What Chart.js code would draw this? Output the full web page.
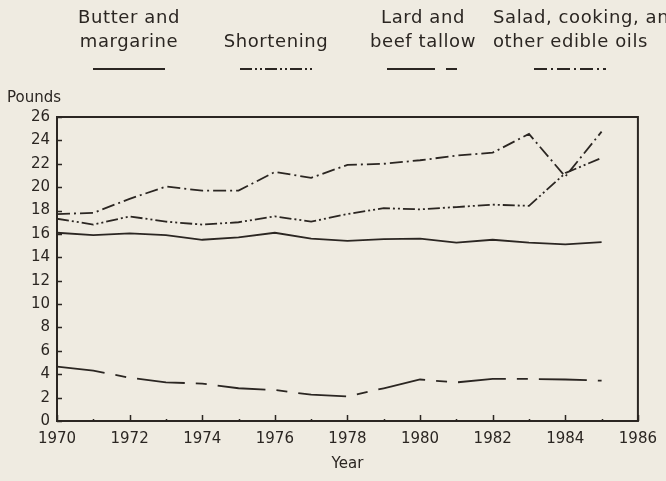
<!DOCTYPE html>
<html>
<head>
<meta charset="utf-8">
<script src="https://cdn.jsdelivr.net/npm/chart.js@4.4.1/dist/chart.umd.min.js"></script>
<style>
  html, body { margin: 0; padding: 0; background: #efebe1; }
  #wrap { width: 666px; height: 481px; }
</style>
</head>
<body>
<div id="wrap"><canvas id="fats" width="666" height="481"></canvas></div>
<script>
var years = [1970, 1971, 1972, 1973, 1974, 1975, 1976, 1977, 1978, 1979, 1980, 1981, 1982, 1983, 1984, 1985];
var butter = [16.1, 15.9, 16.05, 15.9, 15.5, 15.7, 16.1, 15.6, 15.4, 15.55, 15.6, 15.25, 15.5, 15.25, 15.1, 15.3];
var shortening = [17.3, 16.8, 17.5, 17.05, 16.8, 17.0, 17.5, 17.05, 17.7, 18.2, 18.1, 18.3, 18.5, 18.4, 21.2, 22.5];
var lard = [4.65, 4.3, 3.7, 3.3, 3.2, 2.8, 2.65, 2.25, 2.1, 2.8, 3.55, 3.3, 3.6, 3.6, 3.55, 3.45];
var salad = [17.7, 17.8, 19.0, 20.05, 19.7, 19.7, 21.3, 20.8, 21.9, 22.0, 22.3, 22.7, 22.95, 24.55, 20.9, 24.75];

var xTicks = [1970, 1972, 1974, 1976, 1978, 1980, 1982, 1984, 1986];
var yTicks = [0, 2, 4, 6, 8, 10, 12, 14, 16, 18, 20, 22, 24, 26];

var legendText = [
  ["Butter and", "margarine"],
  ["Shortening"],
  ["Lard and", "beef tallow"],
  ["Salad, cooking, and", "other edible oils"]
];

var ink = "#2b2622";
var fontName = "'DejaVu Sans', sans-serif";

function pts(vals) {
  var out = [];
  for (var i = 0; i < years.length; i++) {
    out.push({ x: years[i], y: vals[i] });
  }
  return out;
}

function series(label, vals, dash) {
  return {
    label: label,
    data: pts(vals),
    borderColor: ink,
    borderWidth: 1.8,
    borderDash: dash,
    pointRadius: 0,
    tension: 0,
    fill: false
  };
}

// background, frame, inward ticks, legend and "Pounds"
var decor = {
  id: "decor",
  beforeDraw: function(chart) {
    var c = chart.ctx;
    c.save();
    c.fillStyle = "#efebe1";
    c.fillRect(0, 0, chart.width, chart.height);
    c.restore();
  },
  afterDraw: function(chart) {
    var c = chart.ctx;
    var a = chart.chartArea;
    var xs = chart.scales.x, ys = chart.scales.y;
    c.save();
    c.strokeStyle = ink;
    c.lineWidth = 2;
    c.strokeRect(a.left, a.top, a.right - a.left, a.bottom - a.top);

    c.lineWidth = 1.5;
    c.beginPath();
    yTicks.forEach(function(v) {
      var py = Math.round(ys.getPixelForValue(v)) + 0.5;
      c.moveTo(a.left, py);
      c.lineTo(a.left + 5, py);
    });
    for (var yr = xTicks[0]; yr <= xTicks[xTicks.length - 1]; yr++) {
      var px = Math.round(xs.getPixelForValue(yr)) + 0.5;
      var len = (yr % 2 === 0) ? 6 : 2;
      c.moveTo(px, a.bottom);
      c.lineTo(px, a.bottom - len);
    }
    c.stroke();

    c.fillStyle = ink;
    c.textBaseline = "middle";
    c.font = "15px " + fontName;
    c.textAlign = "left";
    c.fillText("Pounds", 7, 98);

    // legend: text lines over a sample of each line style
    var centers = [129, 276, 423, 570];
    var ds = chart.data.datasets;
    c.font = "18px " + fontName;
    c.letterSpacing = "0.6px";
    for (var i = 0; i < ds.length; i++) {
      var lines = legendText[i];
      var cx = centers[i];
      for (var j = 0; j < lines.length; j++) {
        var ty = (lines.length === 2 ? 18 : 42) + (lines.length === 2 ? j * 24 : 0);
        if (i === 3) {
          c.textAlign = "left";
          c.fillText(lines[j], 493, ty);
        } else {
          c.textAlign = "center";
          c.fillText(lines[j], cx, ty);
        }
      }
      c.lineWidth = 2;
      c.setLineDash(ds[i].borderDash || []);
      c.beginPath();
      c.moveTo(cx - 36, 69);
      c.lineTo(cx + 36, 69);
      c.stroke();
      c.setLineDash([]);
    }
    c.restore();
  }
};

var ctx = document.getElementById("fats").getContext("2d");
var chart = new Chart(ctx, {
  type: "line",
  data: {
    datasets: [
      series("Butter and margarine", butter, []),
      series("Shortening", shortening, [12, 3, 2, 3, 2, 3]),
      series("Lard and beef tallow", lard, [48, 11, 11, 11]),
      series("Salad, cooking, and other edible oils", salad, [13, 4, 2, 4])
    ]
  },
  options: {
    responsive: false,
    animation: false,
    layout: { padding: { top: 117, right: 24, left: 0, bottom: 0 } },
    plugins: {
      legend: { display: false },
      tooltip: { enabled: false }
    },
    scales: {
      x: {
        type: "linear",
        min: 1970,
        max: 1986,
        afterFit: function(s) { s.height = 60; },
        afterBuildTicks: function(s) {
          s.ticks = xTicks.map(function(v) { return { value: v }; });
        },
        grid: { display: false, drawTicks: false },
        border: { display: false },
        ticks: {
          color: ink,
          padding: 9,
          maxRotation: 0,
          autoSkip: false,
          font: { family: fontName, size: 15 },
          callback: function(v) { return String(v); }
        },
        title: {
          display: true,
          text: "Year",
          color: ink,
          font: { family: fontName, size: 15 },
          padding: { top: 0, bottom: 8 }
        }
      },
      y: {
        min: 0,
        max: 26,
        afterFit: function(s) { s.width = 57; },
        afterBuildTicks: function(s) {
          s.ticks = yTicks.map(function(v) { return { value: v }; });
        },
        grid: { display: false, drawTicks: false },
        border: { display: false },
        ticks: {
          color: ink,
          padding: 7,
          autoSkip: false,
          font: { family: fontName, size: 15 }
        }
      }
    }
  },
  plugins: [decor]
});
</script>
</body>
</html>
